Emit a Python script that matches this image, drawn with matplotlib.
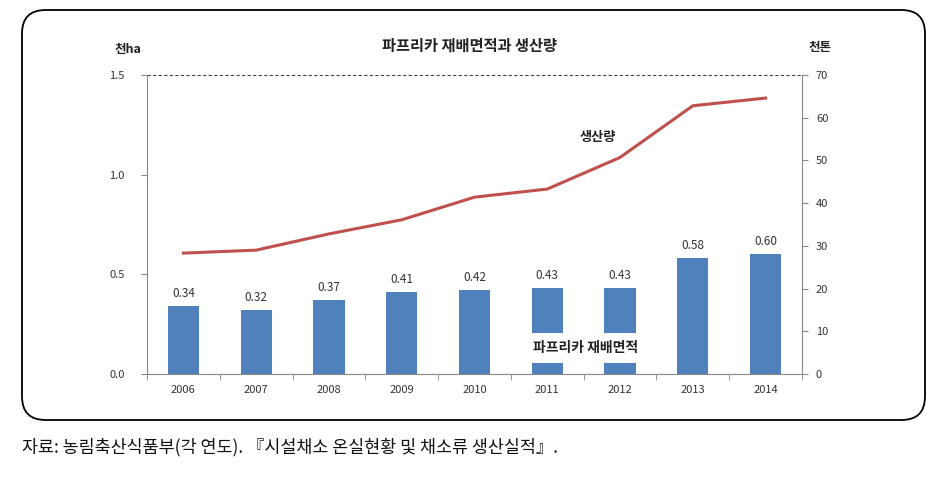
import matplotlib
matplotlib.use("Agg")
import matplotlib.pyplot as plt
from matplotlib.patches import FancyBboxPatch
import numpy as np

plt.rcParams['font.family'] = ['Noto Sans CJK KR', 'DejaVu Sans']

years = ['2006', '2007', '2008', '2009', '2010', '2011', '2012', '2013', '2014']
area = [0.34, 0.32, 0.37, 0.41, 0.42, 0.43, 0.43, 0.58, 0.60]
production = [28.3, 29.0, 32.8, 36.1, 41.4, 43.3, 50.7, 62.8, 64.6]
left_ticks = [0.0, 0.5, 1.0, 1.5]
right_ticks = [0, 10, 20, 30, 40, 50, 60, 70]

title = '파프리카 재배면적과 생산량'
left_unit = '천ha'
right_unit = '천톤'
bar_label = '파프리카 재배면적'
line_label = '생산량'
source = '자료: 농림축산식품부(각 연도). 『시설채소 온실현황 및 채소류 생산실적』.'

W, H = 942, 479
fig = plt.figure(figsize=(W / 100, H / 100), dpi=100)

# rounded frame
box = FancyBboxPatch((22 / W, 1 - 420 / H), (925 - 22) / W, (420 - 10) / H,
                     boxstyle="round,pad=0,rounding_size=0.025",
                     transform=fig.transFigure, fill=False, edgecolor='black',
                     linewidth=1.3, mutation_aspect=W / H)
fig.patches.append(box)

ax = fig.add_axes([147 / W, 1 - 374 / H, (802 - 147) / W, (374 - 75) / H])
x = np.arange(len(years))
bar_color = '#4F81BD'
line_color = '#C0504D'

bars = ax.bar(x, area, width=0.43, color=bar_color, zorder=2)
for xi, v in zip(x, area):
    ax.text(xi, v + 0.03, f'{v:.2f}', ha='center', va='bottom', fontsize=8.5,
            color='#333333')

ax.set_xlim(-0.5, len(years) - 0.5)
ax.set_ylim(0, 1.5)
ax.set_yticks(left_ticks)
ax.set_yticklabels([f'{t:.1f}' for t in left_ticks], fontsize=8, color='#333333')
ax.set_xticks(x)
ax.set_xticklabels(years, fontsize=8, color='#333333')
ax.tick_params(axis='x', which='major', length=0, pad=8)
ax.set_xticks(np.arange(-0.5, len(years), 1), minor=True)
ax.tick_params(axis='x', which='minor', length=4, direction='out', color='#888888')
ax.tick_params(axis='y', length=4, direction='out', color='#888888', pad=12)

for s in ['top', 'right']:
    ax.spines[s].set_visible(False)
ax.spines['left'].set_color('#888888')
ax.spines['bottom'].set_color('#888888')
ax.axhline(1.5, color='#444444', linestyle=(0, (3, 2)), linewidth=0.8, zorder=1,
           clip_on=False)

ax2 = ax.twinx()
ax2.plot(x, production, color=line_color, linewidth=2.2, zorder=3)
ax2.set_ylim(0, 70)
ax2.set_yticks(right_ticks)
ax2.set_yticklabels([str(t) for t in right_ticks], fontsize=8, color='#333333')
ax2.tick_params(axis='y', length=4, direction='out', color='#888888', pad=6)
for s in ['top', 'left', 'bottom']:
    ax2.spines[s].set_visible(False)
ax2.spines['right'].set_color('#888888')

ax.text(5.52, 0.13, bar_label, ha='center', va='center', fontsize=10,
        fontweight='bold', color='#222222', zorder=5,
        bbox=dict(facecolor='white', edgecolor='none', pad=6))
ax2.text(5.7, 55.5, line_label, ha='center', va='center', fontsize=9.5,
         fontweight='bold', color='#222222')

fig.text(470 / W, 1 - 46 / H, title, ha='center', va='center', fontsize=11,
         fontweight='bold', color='#222222')
fig.text(128 / W, 1 - 50 / H, left_unit, ha='center', va='center', fontsize=9,
         fontweight='bold', color='#222222')
fig.text(820 / W, 1 - 47 / H, right_unit, ha='center', va='center', fontsize=9,
         fontweight='bold', color='#222222')
fig.text(22 / W, 1 - 447 / H, source, ha='left', va='center', fontsize=12.5,
         color='#111111')

fig.savefig('out.png', dpi=100)
